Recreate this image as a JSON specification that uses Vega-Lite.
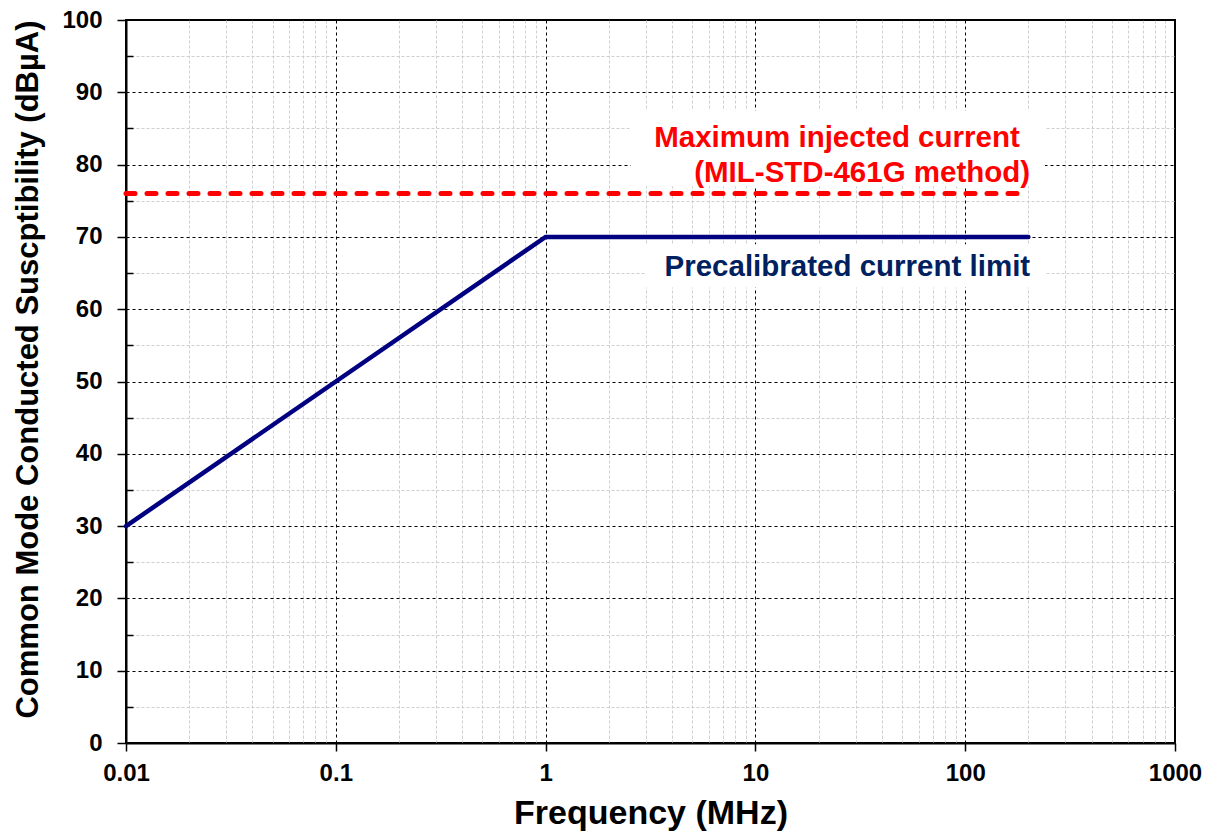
{
  "$schema": "https://vega.github.io/schema/vega-lite/v6.json",
  "width": 1049,
  "height": 723,
  "autosize": "none",
  "padding": {"left": 126, "top": 20, "right": 38, "bottom": 97},
  "background": "white",
  "config": {
    "view": {"stroke": "#000000", "strokeWidth": 2},
    "font": "Liberation Sans"
  },
  "datasets": {
    "lines": [
      {"series": "max", "x": 0.01, "y": 76},
      {"series": "max", "x": 200, "y": 76},
      {"series": "pre", "x": 0.01, "y": 30},
      {"series": "pre", "x": 1, "y": 70},
      {"series": "pre", "x": 200, "y": 70}
    ],
    "boxes": [
      {"x": 2.55, "x2": 240, "y": 77, "y2": 87.5},
      {"x": 3.0, "x2": 240, "y": 63, "y2": 69}
    ],
    "labels": [
      {"series": "max", "label": "Maximum injected current", "x": 182, "y": 82.4},
      {"series": "max", "label": "(MIL-STD-461G method)", "x": 204, "y": 77.6},
      {"series": "pre", "label": "Precalibrated current limit", "x": 204, "y": 64.6}
    ]
  },
  "encoding": {
    "x": {
      "field": "x",
      "type": "quantitative",
      "scale": {"type": "log", "domain": [0.01, 1000], "nice": false},
      "axis": {
        "title": "Frequency (MHz)",
        "titleFont": "Liberation Sans",
        "titleFontSize": 34,
        "titleFontWeight": "bold",
        "titleColor": "#000000",
        "titlePadding": 11,
        "tickValues": [0.01,0.02,0.03,0.04,0.05,0.06,0.07,0.08,0.09,0.1,0.2,0.3,0.4,0.5,0.6,0.7,0.8,0.9,1,2,3,4,5,6,7,8,9,10,20,30,40,50,60,70,80,90,100,200,300,400,500,600,700,800,900,1000],
        "labelExpr": "abs(log(datum.value)/LN10 - round(log(datum.value)/LN10)) < 0.001 ? format(datum.value, '~g') : ''",
        "labelFont": "Liberation Sans",
        "labelFontSize": 24,
        "labelFontWeight": "bold",
        "labelColor": "#000000",
        "labelPadding": 10,
        "labelFlush": false,
        "labelOverlap": false,
        "domainColor": "#000000",
        "domainWidth": 2,
        "tickColor": "#000000",
        "tickWidth": 1.5,
        "tickSize": {"condition": {"test": "abs(log(datum.value)/LN10 - round(log(datum.value)/LN10)) < 0.001", "value": 8}, "value": 0},
        "grid": true,
        "gridColor": {"condition": {"test": "abs(log(datum.value)/LN10 - round(log(datum.value)/LN10)) < 0.001", "value": "#000000"}, "value": "#cfcfcf"},
        "gridDash": {"condition": {"test": "abs(log(datum.value)/LN10 - round(log(datum.value)/LN10)) < 0.001", "value": [3, 3]}, "value": [3, 2]},
        "gridWidth": 1
      }
    },
    "y": {
      "field": "y",
      "type": "quantitative",
      "scale": {"domain": [0, 100], "nice": false},
      "axis": {
        "title": "Common Mode Conducted Suscptibility (dBµA)",
        "titleFont": "Liberation Sans",
        "titleFontSize": 31,
        "titleFontWeight": "bold",
        "titleColor": "#000000",
        "titlePadding": 17,
        "titleY": 349,
        "tickValues": [0,2,4,6,8,10,12,14,16,18,20,22,24,26,28,30,32,34,36,38,40,42,44,46,48,50,52,54,56,58,60,62,64,66,68,70,72,74,76,78,80,82,84,86,88,90,92,94,96,98,100],
        "labelExpr": "datum.value % 10 === 0 ? format(datum.value, 'd') : ''",
        "labelFont": "Liberation Sans",
        "labelFontSize": 24,
        "labelFontWeight": "bold",
        "labelColor": "#000000",
        "labelPadding": 15,
        "labelFlush": false,
        "labelOverlap": false,
        "domainColor": "#000000",
        "domainWidth": 2,
        "tickColor": "#000000",
        "tickWidth": 1.5,
        "tickSize": {"condition": {"test": "datum.value % 10 === 0", "value": 9}, "value": -7},
        "grid": true,
        "gridColor": {"condition": {"test": "datum.value % 10 === 0", "value": "#000000"}, "value": "#cfcfcf"},
        "gridDash": {"condition": {"test": "datum.value % 10 === 0", "value": [3, 3]}, "value": [3, 2]},
        "gridWidth": 1
      }
    }
  },
  "layer": [
    {
      "data": {"name": "boxes"},
      "mark": {"type": "rect", "fill": "#ffffff", "stroke": null},
      "encoding": {
        "x2": {"field": "x2"},
        "y2": {"field": "y2"}
      }
    },
    {
      "data": {"name": "lines"},
      "transform": [{"filter": "datum.series === 'max'"}],
      "mark": {"type": "line", "color": "#ff0000", "strokeWidth": 5, "strokeDash": [9, 12], "strokeCap": "round"}
    },
    {
      "data": {"name": "lines"},
      "transform": [{"filter": "datum.series === 'pre'"}],
      "mark": {"type": "line", "color": "#000080", "strokeWidth": 4.5, "strokeCap": "round"}
    },
    {
      "data": {"name": "labels"},
      "transform": [{"filter": "datum.series === 'max'"}],
      "mark": {"type": "text", "align": "right", "baseline": "alphabetic", "font": "Liberation Sans", "fontSize": 29.5, "fontWeight": "bold", "color": "#ff0000"},
      "encoding": {"text": {"field": "label"}}
    },
    {
      "data": {"name": "labels"},
      "transform": [{"filter": "datum.series === 'pre'"}],
      "mark": {"type": "text", "align": "right", "baseline": "alphabetic", "font": "Liberation Sans", "fontSize": 29.5, "fontWeight": "bold", "color": "#002060"},
      "encoding": {"text": {"field": "label"}}
    }
  ]
}
